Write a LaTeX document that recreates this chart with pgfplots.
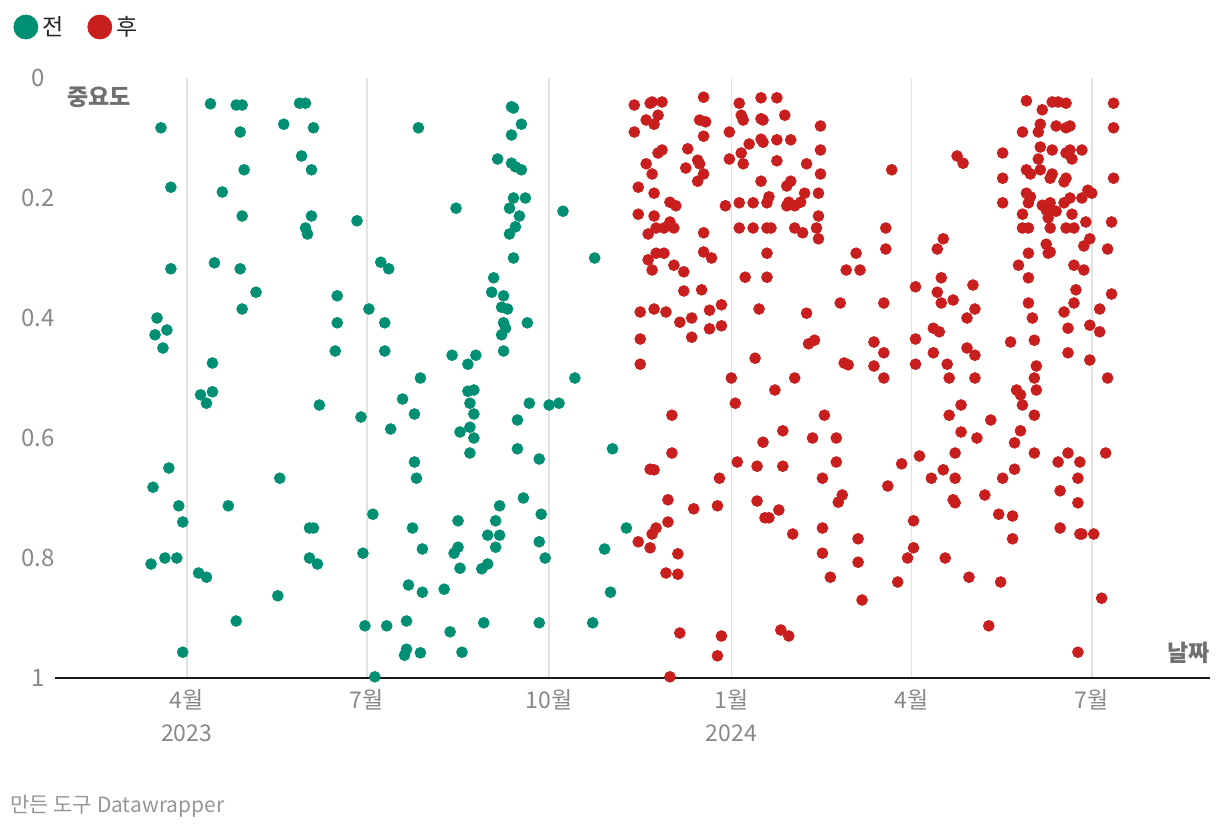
\documentclass[border=0pt]{standalone}
\usepackage{fontspec}
\setmainfont{Noto Sans CJK KR}
\usepackage{pgfplots}
\pgfplotsset{compat=1.18}
\definecolor{dwgreen}{RGB}{0,143,114}
\definecolor{dwred}{RGB}{200,30,30}
\definecolor{ticktext}{RGB}{136,136,136}
\definecolor{labeltext}{RGB}{112,112,112}
\definecolor{footc}{RGB}{150,150,150}
\definecolor{gridc}{RGB}{226,226,226}
\begin{document}
\begin{tikzpicture}
\useasboundingbox (-27.5pt,-77pt) rectangle (582.5pt,339pt);
\begin{axis}[
  at={(0,0)}, anchor=south west,
  scale only axis, width=577.5pt, height=300pt,
  xmin=-66.5, xmax=516.7, ymin=0, ymax=1, y dir=reverse,
  clip=false,
  axis line style={draw=none},
  tick style={draw=none},
  xtick={0,91,183,275,366,457},
  xticklabels={{4월\\2023},{7월},{10월},{1월\\2024},{4월},{7월}},
  xticklabel style={align=center, font=\fontsize{11.5}{16.5}\selectfont, text=ticktext, yshift=-2pt},
  ytick={0,0.2,0.4,0.6,0.8,1},
  yticklabels={0,0.2,0.4,0.6,0.8,1},
  yticklabel style={anchor=center, xshift=-8.5pt, font=\fontsize{12}{13}\selectfont, text=ticktext},
  xmajorgrids, ymajorgrids=false,
  major grid style={draw=gridc, line width=0.8pt},
  legend style={at={(axis description cs:-0.0415,1.085)}, anchor=west, draw=none, fill=none,
    legend columns=2, font=\fontsize{11.5}{13}\selectfont, text=black!85,
    /tikz/every even column/.append style={column sep=10pt}},
  legend image code/.code={\fill (5pt,0pt) circle (6pt);},
]
\addplot[forget plot, draw=black!90, line width=1pt] coordinates {(-66.5,1) (516.7,1)};
\addplot[only marks, mark=*, mark size=2.7pt, color=dwgreen] coordinates {
(-13,0.083) (-8,0.182) (-8,0.318) (-15,0.400) (-10,0.420) (-16,0.428) (-12,0.450) (-17,0.682) (-9,0.650) (-4,0.713) (-2,0.740) (-18,0.810) (-11,0.800) (-5,0.800) (-2,0.957)
(12,0.043) (25,0.045) (28,0.045) (27,0.090) (29,0.153) (18,0.190) (28,0.230) (14,0.308) (27,0.318) (35,0.357) (28,0.385) (13,0.475) (7,0.528) (13,0.523) (10,0.542) (21,0.713) (6,0.825) (10,0.832) (25,0.905)
(47,0.667) (46,0.863) (49,0.077) (57,0.042) (60,0.042) (64,0.083) (58,0.130) (63,0.153) (63,0.230) (60,0.250) (61,0.260) (62,0.750) (64,0.750) (62,0.800) (66,0.810) (67,0.545)
(76,0.363) (76,0.408) (75,0.455) (86,0.238) (88,0.565) (92,0.385) (94,0.727) (89,0.792) (90,0.913) (95,0.998)
(98,0.307) (100,0.408) (100,0.455) (101,0.913) (102,0.318) (103,0.585) (109,0.535) (110,0.962) (111,0.905) (111,0.952) (112,0.845) (114,0.750) (115,0.560) (115,0.640) (116,0.667) (117,0.083) (118,0.500) (118,0.958) (119,0.785) (119,0.857)
(130,0.852) (133,0.923) (134,0.462) (135,0.792) (136,0.217) (137,0.738) (137,0.782) (138,0.590) (138,0.817) (139,0.957) (142,0.477) (142,0.522) (145,0.520) (143,0.542) (145,0.560) (143,0.582) (145,0.600) (143,0.625) (146,0.462) (149,0.818) (152,0.810) (150,0.908) (152,0.762)
(154,0.357) (155,0.333) (156,0.738) (156,0.782) (157,0.135) (158,0.713) (158,0.762) (159,0.382) (160,0.363) (160,0.408) (159,0.428) (160,0.455) (161,0.417) (162,0.385) (163,0.217) (163,0.260) (164,0.048) (165,0.050) (164,0.095) (164,0.142) (165,0.200) (165,0.300) (166,0.148) (166,0.248) (167,0.570) (167,0.618) (168,0.230) (169,0.077) (169,0.153) (170,0.700) (171,0.200) (172,0.408) (173,0.542)
(178,0.635) (178,0.773) (178,0.908) (179,0.727) (181,0.800) (183,0.545) (188,0.542) (190,0.222) (196,0.500) (205,0.908) (206,0.300) (211,0.785) (214,0.857) (215,0.618) (222,0.750)
};
\addlegendentry{전}
\addplot[only marks, mark=*, mark size=2.7pt, color=dwred] coordinates {
(226,0.045) (234,0.042) (235,0.040) (240,0.040) (261,0.032) (279,0.042) (290,0.033) (298,0.033) (238,0.062) (232,0.070) (236,0.077) (259,0.070) (262,0.073) (280,0.062) (281,0.070) (290,0.068) (291,0.070) (302,0.062) (320,0.080)
(226,0.090) (261,0.097) (274,0.090) (290,0.102) (291,0.107) (284,0.110) (298,0.103) (305,0.103) (238,0.125) (240,0.120) (253,0.118) (320,0.120) (280,0.125)
(232,0.143) (235,0.160) (252,0.150) (258,0.137) (259,0.143) (261,0.160) (258,0.172) (274,0.135) (281,0.143) (298,0.138) (313,0.143) (320,0.160)
(228,0.182) (236,0.192) (244,0.207) (247,0.213) (272,0.213) (279,0.208) (286,0.208) (290,0.172) (293,0.208) (294,0.198) (303,0.180) (305,0.172) (303,0.213) (304,0.207) (307,0.213) (310,0.207) (312,0.192) (319,0.192)
(228,0.227) (236,0.230) (237,0.250) (241,0.250) (244,0.240) (246,0.250) (233,0.260) (261,0.258) (279,0.250) (286,0.250) (293,0.250) (295,0.250) (307,0.250) (311,0.258) (319,0.230) (318,0.250) (319,0.268)
(237,0.292) (241,0.292) (233,0.303) (235,0.320) (246,0.312) (251,0.323) (261,0.290) (265,0.300) (293,0.292) (282,0.332) (293,0.332) (338,0.292) (333,0.320) (340,0.320)
(251,0.355) (260,0.353) (229,0.390) (236,0.385) (242,0.390) (249,0.407) (255,0.400) (264,0.387) (270,0.378) (264,0.418) (270,0.413) (255,0.432) (229,0.435) (289,0.385) (313,0.392) (330,0.375) (314,0.443) (317,0.437)
(229,0.477) (287,0.467) (332,0.475) (334,0.478) (275,0.500) (307,0.500) (297,0.520) (277,0.542) (245,0.562) (322,0.562) (301,0.588) (291,0.607) (316,0.600) (328,0.600) (245,0.625)
(234,0.652) (236,0.653) (278,0.640) (288,0.647) (301,0.647) (328,0.640) (269,0.667) (321,0.667) (243,0.703) (256,0.718) (268,0.713) (288,0.705) (299,0.720) (292,0.733) (294,0.733) (331,0.695) (329,0.707)
(243,0.740) (237,0.750) (235,0.760) (228,0.773) (234,0.783) (248,0.793) (306,0.760) (321,0.750) (339,0.768) (321,0.792) (339,0.807) (242,0.825) (248,0.827) (325,0.832) (341,0.870)
(249,0.925) (270,0.930) (300,0.920) (304,0.930) (268,0.963) (244,0.998)
(424,0.038) (432,0.053) (437,0.040) (440,0.040) (444,0.042) (468,0.042) (468,0.083) (431,0.077) (430,0.090) (422,0.090) (439,0.080) (444,0.083) (446,0.080)
(412,0.125) (431,0.115) (437,0.120) (444,0.125) (446,0.120) (447,0.135) (452,0.120) (430,0.135) (389,0.130) (392,0.142) (356,0.153)
(424,0.153) (426,0.160) (431,0.153) (437,0.160) (436,0.167) (444,0.167) (443,0.173) (412,0.167) (468,0.167)
(412,0.208) (424,0.192) (426,0.198) (425,0.208) (432,0.212) (436,0.208) (434,0.220) (435,0.233) (439,0.222) (443,0.208) (446,0.200) (447,0.227) (422,0.227) (452,0.200) (455,0.187) (457,0.192) (454,0.240) (467,0.240)
(422,0.250) (425,0.250) (436,0.250) (444,0.250) (448,0.250) (353,0.250) (353,0.285) (382,0.268) (379,0.285) (434,0.277) (435,0.292) (436,0.290) (425,0.292) (420,0.312) (448,0.312) (453,0.320) (456,0.268) (453,0.280) (465,0.285)
(425,0.333) (381,0.333) (368,0.348) (379,0.357) (381,0.375) (387,0.370) (397,0.345) (398,0.385) (394,0.400) (352,0.375) (425,0.375) (427,0.400) (449,0.353) (448,0.375) (443,0.390) (467,0.360) (461,0.385) (445,0.417) (456,0.412) (461,0.423)
(368,0.435) (377,0.417) (380,0.423) (347,0.440) (352,0.458) (347,0.480) (368,0.477) (377,0.458) (384,0.477) (394,0.450) (398,0.462) (416,0.440) (428,0.437) (429,0.480) (445,0.458) (456,0.470)
(352,0.500) (385,0.500) (398,0.500) (428,0.500) (465,0.500) (419,0.520) (421,0.528) (422,0.545) (429,0.520) (391,0.545) (385,0.562) (406,0.570) (428,0.562) (391,0.590) (399,0.600) (421,0.588) (418,0.608)
(388,0.625) (428,0.625) (440,0.640) (445,0.625) (451,0.640) (464,0.625) (361,0.643) (370,0.630) (382,0.653) (376,0.667) (388,0.667) (412,0.667) (418,0.652) (450,0.667) (354,0.680) (441,0.688) (450,0.708)
(387,0.703) (388,0.708) (403,0.695) (410,0.727) (417,0.730) (367,0.738) (441,0.750) (451,0.760) (452,0.760) (458,0.760) (417,0.768) (367,0.783) (364,0.800) (383,0.800) (395,0.832) (411,0.840) (359,0.840) (462,0.867) (405,0.913) (450,0.957)
};
\addlegendentry{후}
\node[anchor=west, inner sep=0pt, font=\bfseries\fontsize{11.5}{13}\selectfont, text=labeltext] at (axis description cs:0.0104,0.968) {중요도};
\node[anchor=east, inner sep=0pt, font=\bfseries\fontsize{11.5}{13}\selectfont, text=labeltext] at (axis description cs:1,0.0417) {날짜};
\node[anchor=west, inner sep=0pt, font=\fontsize{10.5}{12}\selectfont, text=footc] at (axis description cs:-0.039,-0.2133) {만든 도구 Datawrapper};
\end{axis}
\end{tikzpicture}
\end{document}
